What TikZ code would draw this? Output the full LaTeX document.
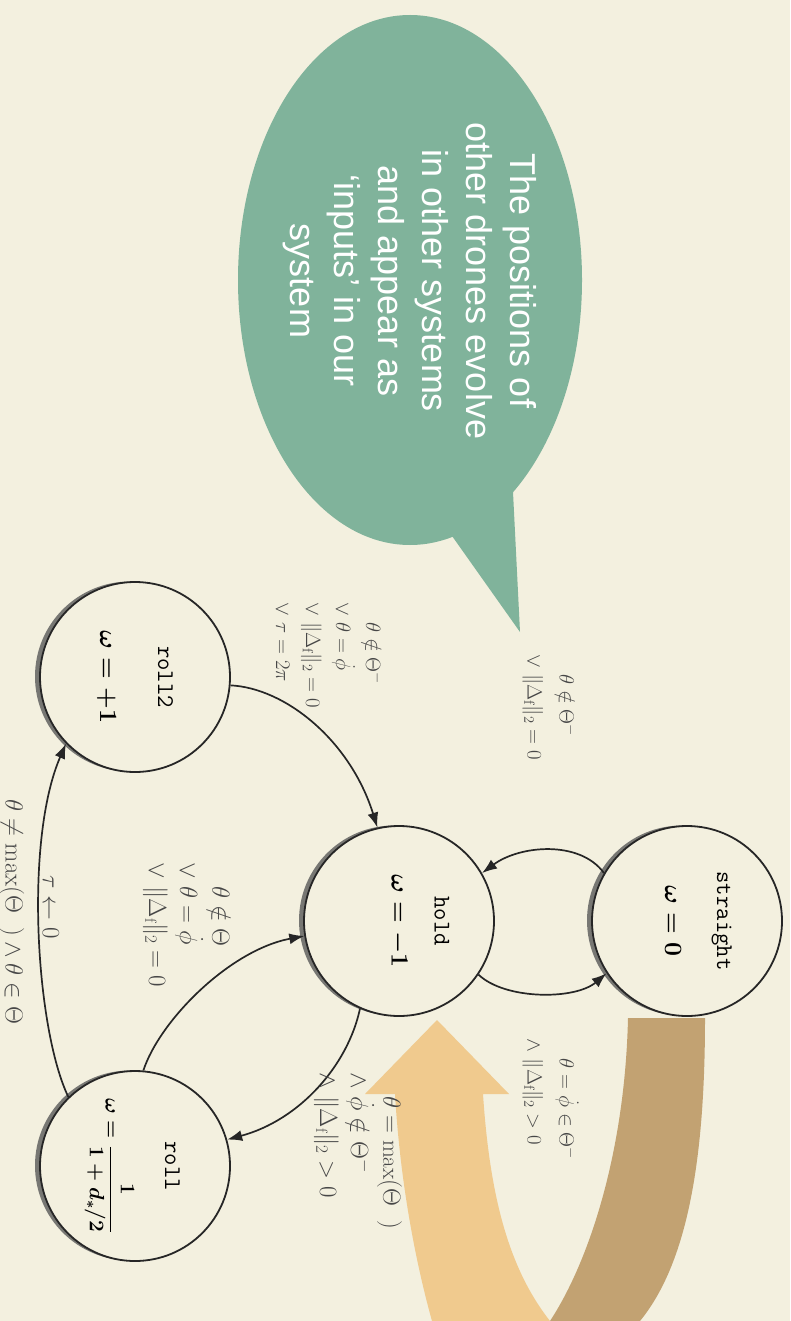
\documentclass[tikz,border=0pt]{standalone}
\usepackage{fontspec}
\usepackage{amsmath,amssymb}
\usepackage{graphicx}
\usetikzlibrary{arrows.meta,shadows}
\newfontfamily\bubblefont{Liberation Sans}
\definecolor{paper}{HTML}{F3F0DF}
\definecolor{bubble}{HTML}{80B39B}
\definecolor{tanband}{HTML}{C2A272}
\definecolor{orangeband}{HTML}{F0CA8E}
\definecolor{condgray}{HTML}{474747}
% state content: raise, gap between lines, name, formula (turned a quarter clockwise)
\newcommand{\statebox}[4]{%
  \rotatebox{-90}{\raisebox{#1}[\height][\depth]{%
    \begin{tabular}{@{}c@{}}\texttt{#3}\\[#2]#4\end{tabular}}}}
\begin{document}
\begin{tikzpicture}[x=1pt,y=-1pt,
  state/.style={circle, draw=black!85, line width=1.8pt, fill=paper,
    minimum size=190pt, inner sep=0pt, font=\fontsize{24}{29}\selectfont,
    drop shadow={shadow xshift=-5pt, shadow yshift=0.5pt, fill=black!65, opacity=0.8}},
  trans/.style={draw=black!85, line width=1.7pt, -{Latex[length=15pt,width=11pt]}},
  cond/.style={rotate=-90, text=condgray, inner sep=0pt, font=\fontsize{22}{31}\selectfont},
]
\useasboundingbox (0,0) rectangle (790,1321);
\fill[paper] (0,0) rectangle (790,1321);

% speech bubble
\fill[bubble] (410,280) ellipse [x radius=172pt, y radius=265pt];
\fill[bubble] (440,519) -- (512,472) -- (520,632) -- cycle;
\node[rotate=-90, text=white, align=center, inner sep=0pt,
      font=\bubblefont\fontsize{36}{44}\selectfont] (note) at (410,281)
  {The positions of\\other drones evolve\\in other systems\\and appear as\\‘inputs’ in our\\system};

% broad U-turn arrow from straight back to hold
\fill[orangeband] (437,1020) -- (509,1094) -- (483,1094)
  .. controls (490,1200) and (510,1270) .. (550,1321) -- (432,1321)
  .. controls (415,1260) and (400,1180) .. (395,1094) -- (365,1094) -- cycle;
\fill[tanband] (628,1018) -- (705,1018)
  .. controls (705,1150) and (690,1260) .. (640,1321) -- (550,1321)
  .. controls (590,1260) and (625,1150) .. (628,1018) -- cycle;

% states
\node[state] (straight) at (687,921) {\statebox{10pt}{23pt}{straight}{\boldmath$\omega=0$}};
\node[state] (hold) at (399,921) {\statebox{20pt}{14pt}{hold}{\boldmath$\omega=-1$}};
\node[state] (roll2) at (135,677) {\statebox{0pt}{29pt}{roll2}{\boldmath$\omega=+1$}};
\node[state] (roll) at (135,1166) {\statebox{0pt}{22pt}{roll}{{\fontsize{20}{24}\selectfont\boldmath$\omega=\dfrac{1}{1+d_*/2}$}}};

% transitions
\draw[trans] (straight.150) .. controls (580,840) and (520,845) .. (hold.30);
\draw[trans] (hold.326) .. controls (505,1000) and (575,1000) .. (straight.213);
\draw[trans] (roll2.355) .. controls (285,688) and (350,740) .. (hold.103);
\draw[trans] (hold.246) .. controls (348,1065) and (300,1120) .. (roll.16);
\draw[trans] (roll.134) .. controls (36,1030) and (24,840) .. (roll2.224);
\draw[trans] (roll.85) .. controls (160,1020) and (230,950) .. (hold.189);

% guards and resets
\node[cond, font=\fontsize{21}{32}\selectfont] (g-sh) at (550,707) {\begin{tabular}{@{}l@{}}
  $\phantom{\vee}\ \theta\notin\Theta^-$\\
  $\vee\ \|\Delta_{\mathrm f}\|_2=0$\end{tabular}};
\node[cond, font=\fontsize{21}{32}\selectfont] (g-hs) at (550,1099) {\begin{tabular}{@{}l@{}}
  $\phantom{\wedge}\ \theta=\dot\phi\in\Theta^-$\\
  $\wedge\ \|\Delta_{\mathrm f}\|_2>0$\end{tabular}};
\node[cond, font=\fontsize{21}{30}\selectfont] (g-r2h) at (327,655) {\begin{tabular}{@{}l@{}}
  $\phantom{\vee}\ \theta\notin\Theta^-$\\
  $\vee\ \theta=\dot\phi$\\
  $\vee\ \|\Delta_{\mathrm f}\|_2=0$\\
  $\vee\ \tau=2\pi$\end{tabular}};
\node[cond, font=\fontsize{23}{31}\selectfont] (g-hr) at (358,1151) {\begin{tabular}{@{}l@{}}
  $\phantom{\wedge}\ \theta=\max(\Theta^{\phantom{-}})$\\
  $\wedge\ \dot\phi\notin\Theta^-$\\
  $\wedge\ \|\Delta_{\mathrm f}\|_2>0$\end{tabular}};
\node[cond, font=\fontsize{23}{31}\selectfont] (g-rh) at (187,925) {\begin{tabular}{@{}l@{}}
  $\phantom{\vee}\ \theta\notin\Theta$\\
  $\vee\ \theta=\dot\phi$\\
  $\vee\ \|\Delta_{\mathrm f}\|_2=0$\end{tabular}};
\node[cond, font=\fontsize{26}{31}\selectfont] (reset) at (51,907) {$\tau\leftarrow0$};
\node[cond, font=\fontsize{25}{31}\selectfont] (g-rr2) at (12,912)
  {$\theta\neq\max(\Theta^{\phantom{-}})\wedge\theta\in\Theta$};
\end{tikzpicture}
\end{document}
